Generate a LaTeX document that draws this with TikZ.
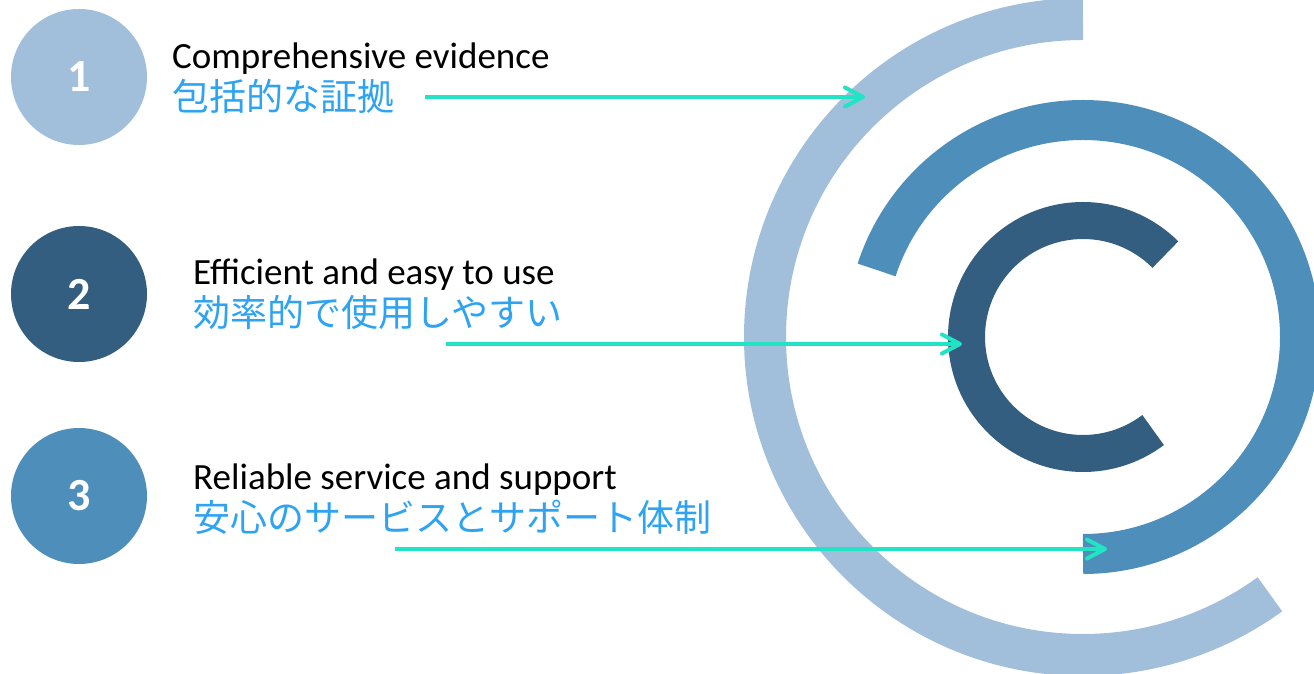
\documentclass[tikz,border=0pt]{standalone}
\usepackage{fontspec}
\setmainfont{Carlito}
\newfontfamily\jpfont{Noto Sans CJK JP}
\usetikzlibrary{arrows.meta}
\definecolor{lightb}{HTML}{A1BFDA}
\definecolor{midb}{HTML}{4E8EBA}
\definecolor{darkb}{HTML}{335E80}
\definecolor{teal}{HTML}{22E3C3}
\definecolor{jpblue}{HTML}{2EA3F2}
\tikzset{
  numcirc/.style={circle, minimum size=136pt, inner sep=0pt, text=white, font=\fontsize{46}{48}\selectfont\bfseries},
  entext/.style={anchor=base west, inner sep=0pt, text=black, font=\fontsize{37}{40}\selectfont},
  jptext/.style={anchor=base west, inner sep=0pt, text=jpblue, font=\jpfont\fontsize{37}{40}\selectfont},
  ring/.style={line width=#1},
  conn/.style={teal, line width=4pt, -{Straight Barb[length=18pt,width=19pt,round]}}
}
\begin{document}
\begin{tikzpicture}[x=1pt,y=1pt]
\useasboundingbox (0,0) rectangle (1314,674);
\coordinate (C) at (1083,337);
% arcs
\draw[lightb, ring=42pt] ([shift={(C)}]90:318) arc[start angle=90, end angle=306, radius=318];
\draw[midb, ring=40pt] ([shift={(C)}]-90:217) arc[start angle=-90, end angle=162, radius=217];
\draw[darkb, ring=37pt] ([shift={(C)}]45:116.5) arc[start angle=45, end angle=307, radius=116.5];
% numbered circles
\node[numcirc, fill=lightb] (n1) at (79,597) {1};
\node[numcirc, fill=darkb] (n2) at (79,380) {2};
\node[numcirc, fill=midb] (n3) at (79,178) {3};
% texts
\node[entext] (e1) at (172,605) {Comprehensive evidence};
\node[jptext] (j1) at (172,563) {包括的な証拠};
\node[entext] (e2) at (193,389) {Efficient and easy to use};
\node[jptext] (j2) at (193,347) {効率的で使用しやすい};
\node[entext] (e3) at (193,184) {Reliable service and support};
\node[jptext] (j3) at (193,142) {安心のサービスとサポート体制};
% arrows
\coordinate (a1s) at (425,577);
\coordinate (a1e) at (865,577);
\coordinate (a2s) at (446,330);
\coordinate (a2e) at (962,330);
\coordinate (a3s) at (395,125);
\coordinate (a3e) at (1107,125);
\draw[conn] (a1s) -- (a1e);
\draw[conn] (a2s) -- (a2e);
\draw[conn] (a3s) -- (a3e);
\end{tikzpicture}
\end{document}
